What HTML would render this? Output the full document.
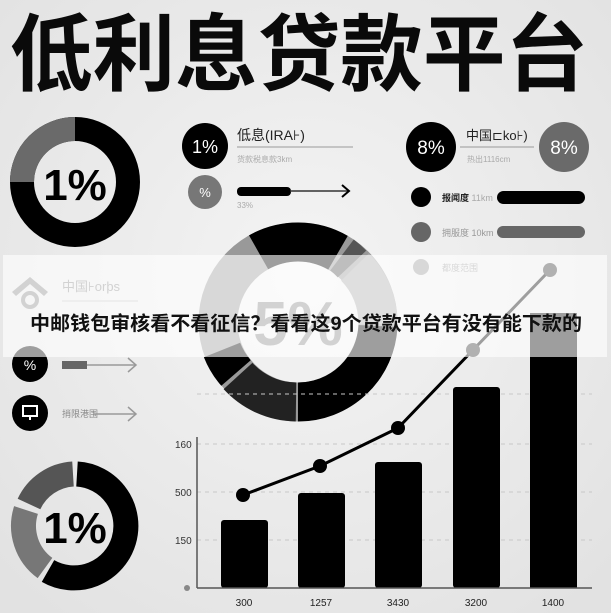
<!DOCTYPE html>
<html><head><meta charset="utf-8"><style>
html,body{margin:0;padding:0;background:#ececec}
svg{display:block}
text{font-family:"Liberation Sans","Noto Sans CJK SC",sans-serif}
</style></head><body>
<svg width="611" height="613" viewBox="0 0 611 613" xmlns="http://www.w3.org/2000/svg">
<defs>
<radialGradient id="bg" cx="50%" cy="45%" r="70%"><stop offset="0" stop-color="#f4f4f4"/><stop offset="1" stop-color="#e2e2e2"/></radialGradient>
</defs>
<rect width="611" height="613" fill="url(#bg)"/>
<text x="10" y="84" font-size="84" font-weight="bold" textLength="578" lengthAdjust="spacingAndGlyphs" fill="#0a0a0a">低利息贷款平台</text>

<!-- top-left donut -->
<circle cx="75" cy="182" r="53" fill="none" stroke="#000" stroke-width="24"/>
<path d="M75 129 A53 53 0 0 0 22 182" fill="none" stroke="#6a6a6a" stroke-width="24"/>
<text x="75" y="200" font-size="44" font-weight="bold" text-anchor="middle">1%</text>

<!-- middle column -->
<circle cx="205" cy="146" r="23" fill="#000"/>
<text x="205" y="153" font-size="18" fill="#fff" text-anchor="middle">1%</text>
<text x="237" y="140" font-size="14" fill="#222">低息(IRA⊦)</text>
<line x1="237" y1="147" x2="353" y2="147" stroke="#999" stroke-width="1"/>
<text x="237" y="162" font-size="8" fill="#aaa">货款税息款3km</text>
<circle cx="205" cy="192" r="17" fill="#777"/>
<text x="205" y="197" font-size="13" fill="#fff" text-anchor="middle">%</text>
<rect x="237" y="187" width="54" height="9" rx="4" fill="#000"/>
<line x1="290" y1="191" x2="348" y2="191" stroke="#333" stroke-width="1.5"/>
<path d="M342 185 L349 191 L342 197" fill="none" stroke="#000" stroke-width="2"/>
<text x="237" y="208" font-size="8" fill="#aaa">33%</text>

<!-- right column -->
<circle cx="431" cy="147" r="25" fill="#000"/>
<text x="431" y="154" font-size="19" fill="#fff" text-anchor="middle">8%</text>
<text x="466" y="140" font-size="13" fill="#222">中国⊏ko⊦)</text>
<line x1="460" y1="147" x2="534" y2="147" stroke="#999" stroke-width="1"/>
<text x="467" y="162" font-size="8" fill="#aaa">热出1116cm</text>
<circle cx="564" cy="147" r="25" fill="#6a6a6a"/>
<text x="564" y="154" font-size="19" fill="#fff" text-anchor="middle">8%</text>
<circle cx="421" cy="197" r="10" fill="#000"/>
<text x="442" y="201" font-size="9" fill="#222" font-weight="bold">报闻度 <tspan fill="#aaa" font-weight="normal">11km</tspan></text>
<rect x="497" y="191" width="88" height="13" rx="6.5" fill="#000"/>
<circle cx="421" cy="232" r="10" fill="#666"/>
<text x="442" y="236" font-size="9" fill="#999">拥服度 10km</text>
<rect x="497" y="226" width="88" height="12" rx="6" fill="#666"/>
<circle cx="421" cy="267" r="8" fill="#999"/>
<text x="442" y="271" font-size="9" fill="#999">都度范围</text>

<!-- big middle donut -->
<g fill="none" stroke-width="39">
<circle cx="298" cy="322" r="80" stroke="#999"/>
<path d="M258.6 252.3 A80 80 0 0 1 338 252.7" stroke="#000"/>
<path d="M342 255 A80 80 0 0 1 352 264" stroke="#555"/>
<path d="M355 267 A80 80 0 0 1 378 324" stroke="#aaa"/>
<path d="M378 326 A80 80 0 0 1 298 402" stroke="#000"/>
<path d="M296 402 A80 80 0 0 1 238 376" stroke="#222"/>
<path d="M236 373 A80 80 0 0 1 222 350" stroke="#000"/>
</g>
<text x="298" y="345" font-size="62" font-weight="bold" fill="#888" text-anchor="middle">5%</text>

<!-- left middle -->
<path d="M12 292 L30 277 L48 292 L44 296 L30 284 L16 296 Z" fill="#888"/>
<circle cx="30" cy="300" r="7" fill="none" stroke="#888" stroke-width="4"/>
<text x="62" y="291" font-size="13" fill="#888">中国⊦orþs</text>
<line x1="62" y1="301" x2="138" y2="301" stroke="#bbb"/>
<circle cx="30" cy="364" r="18" fill="#000"/>
<text x="30" y="370" font-size="14" fill="#fff" text-anchor="middle">%</text>
<rect x="62" y="361" width="25" height="8" fill="#666"/>
<line x1="87" y1="365" x2="135" y2="365" stroke="#999" stroke-width="1.5"/>
<path d="M128 358 L136 365 L128 372" fill="none" stroke="#999" stroke-width="1.5"/>
<circle cx="30" cy="413" r="18" fill="#000"/>
<rect x="23" y="406" width="14" height="10" fill="none" stroke="#fff" stroke-width="2"/>
<line x1="30" y1="416" x2="30" y2="420" stroke="#fff" stroke-width="2"/>
<text x="62" y="417" font-size="9" fill="#888">捎限港围</text>
<line x1="94" y1="414" x2="135" y2="414" stroke="#999" stroke-width="1.5"/>
<path d="M128 407 L136 414 L128 421" fill="none" stroke="#999" stroke-width="1.5"/>

<!-- bottom-left donut -->
<g fill="none" stroke-width="25">
<path d="M77 474 A52 52 0 1 1 48 571" stroke="#000"/>
<path d="M45 568 A52 52 0 0 1 26 510" stroke="#777"/>
<path d="M29 504 A52 52 0 0 1 73 474" stroke="#555"/>
</g>
<text x="75" y="543" font-size="44" font-weight="bold" text-anchor="middle">1%</text>

<!-- bar chart -->
<g stroke="#c8c8c8" stroke-dasharray="4 4" stroke-width="1">
<line x1="197" y1="394" x2="592" y2="394"/>
<line x1="197" y1="444" x2="592" y2="444"/>
<line x1="197" y1="492" x2="592" y2="492"/>
<line x1="197" y1="540" x2="592" y2="540"/>
</g>
<g font-size="10" fill="#333">
<text x="175" y="448">160</text><text x="175" y="496">500</text><text x="175" y="544">150</text>
</g>
<circle cx="187" cy="588" r="3" fill="#888"/>
<rect x="221" y="520" width="47" height="68" rx="3" fill="#000"/>
<rect x="298" y="493" width="47" height="95" rx="3" fill="#000"/>
<rect x="375" y="462" width="47" height="126" rx="3" fill="#000"/>
<rect x="453" y="387" width="47" height="201" rx="3" fill="#000"/>
<rect x="530" y="313" width="47" height="275" fill="#000"/>
<line x1="197" y1="437" x2="197" y2="588" stroke="#555" stroke-width="1.5"/>
<line x1="197" y1="588" x2="592" y2="588" stroke="#555" stroke-width="1.5"/>
<g font-size="10" fill="#222" text-anchor="middle">
<text x="244" y="606">300</text><text x="321" y="606">1257</text><text x="398" y="606">3430</text><text x="476" y="606">3200</text><text x="553" y="606">1400</text>
</g>
<polyline points="243,495 320,466 398,428 473,350 550,270" fill="none" stroke="#000" stroke-width="3"/>
<circle cx="243" cy="495" r="7"/><circle cx="320" cy="466" r="7"/><circle cx="398" cy="428" r="7"/>
<circle cx="473" cy="350" r="7" fill="#333"/><circle cx="550" cy="270" r="7" fill="#333"/>

<!-- banner -->
<rect x="3" y="255" width="604" height="102" fill="#fff" fill-opacity="0.62"/>
<text x="306" y="330" font-size="19.5" font-weight="bold" fill="#111" text-anchor="middle" textLength="552" lengthAdjust="spacingAndGlyphs">中邮钱包审核看不看征信？看看这9个贷款平台有没有能下款的</text>
</svg>
</body></html>
